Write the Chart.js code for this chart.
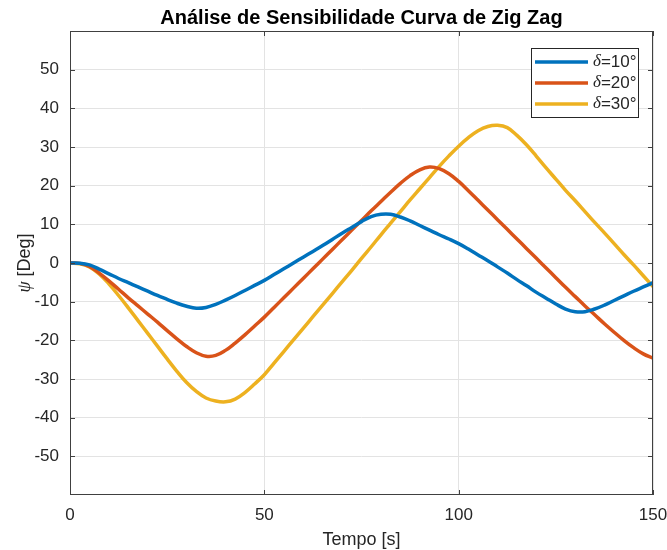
<!DOCTYPE html>
<html><head><meta charset="utf-8">
<script src="https://cdn.jsdelivr.net/npm/chart.js@4.4.0/dist/chart.umd.min.js"></script>
<style>html,body{margin:0;padding:0;background:#fff}#wrap{width:667px;height:550px;position:relative}</style>
</head><body><div id="wrap"><canvas id="c"></canvas></div>
<script>
const chartTitle = 'Análise de Sensibilidade Curva de Zig Zag';
const xTitle = 'Tempo [s]';
const yTitleSymbol = 'ψ';
const yTitleText = ' [Deg]';
const legendSymbol = 'δ';
const seriesLabels = ['=10°', '=20°', '=30°'];
const seriesColors = ['#0072BD', '#D95319', '#EDB120'];
const xTicks = [0, 50, 100, 150];
const yTicks = [-50, -40, -30, -20, -10, 0, 10, 20, 30, 40, 50];

const time = [0,2.5,5,7.5,10,12.5,15,17.5,20,22.5,25,27.5,30,32.5,35,37.5,40,42.5,45,47.5,
  50,52.5,55,57.5,60,62.5,65,67.5,70,72.5,75,77.5,80,82.5,85,87.5,90,92.5,95,97.5,
  100,102.5,105,107.5,110,112.5,115,117.5,120,122.5,125,127.5,130,132.5,135,137.5,140,142.5,145,147.5,150];

const psi10 = [0,-0.05,-0.5,-1.6,-2.8,-4.0,-5.1,-6.2,-7.3,-8.4,-9.4,-10.4,-11.2,-11.7,-11.5,-10.7,-9.6,-8.4,-7.1,-5.8,
  -4.5,-3.0,-1.5,0.0,1.5,3.0,4.5,6.1,7.7,9.2,10.7,12.0,12.6,12.6,11.9,10.9,9.7,8.5,7.3,6.2,
  5.0,3.6,2.1,0.6,-1.0,-2.6,-4.3,-5.9,-7.6,-9.1,-10.6,-11.9,-12.6,-12.6,-11.9,-10.9,-9.7,-8.5,-7.3,-6.2,-5.1];

const psi20 = [0,-0.1,-0.9,-2.6,-4.6,-6.8,-9.0,-11.1,-13.2,-15.3,-17.5,-19.6,-21.6,-23.2,-24.1,-23.9,-22.6,-20.7,-18.6,-16.3,
  -14.0,-11.5,-9.0,-6.5,-4.0,-1.5,1.0,3.5,6.0,8.5,11.0,13.5,15.9,18.3,20.6,22.6,24.1,24.8,24.4,23.1,
  21.1,18.7,16.2,13.7,11.2,8.7,6.2,3.7,1.2,-1.3,-3.8,-6.3,-8.7,-11.1,-13.4,-15.7,-17.9,-20.0,-21.9,-23.5,-24.6];

const psi30 = [0,-0.2,-1.0,-2.8,-5.4,-8.4,-11.6,-14.9,-18.2,-21.5,-24.8,-28.0,-30.9,-33.2,-34.9,-35.7,-35.9,-35.2,-33.5,-31.3,
  -28.9,-25.9,-22.9,-19.9,-16.9,-13.9,-10.9,-7.9,-4.9,-1.9,1.2,4.2,7.3,10.3,13.3,16.3,19.2,22.1,25.0,27.7,
  30.2,32.4,34.2,35.3,35.6,35.0,33.0,30.5,27.6,24.6,21.7,18.8,16.1,13.3,10.5,7.8,5.0,2.2,-0.5,-3.3,-6.1];

const seriesValues = [psi10, psi20, psi30];
const SANS = '"Liberation Sans", Arial, Helvetica, sans-serif';
const SERIF = '"Liberation Serif", "Times New Roman", serif';
const TXT = '#262626';

const deco = {
  id: 'deco',
  beforeDraw(chart) {
    const ctx = chart.ctx;
    ctx.save(); ctx.fillStyle = '#fff'; ctx.fillRect(0, 0, chart.width, chart.height); ctx.restore();
  },
  afterDatasetsDraw(chart) {
    const { ctx, chartArea: a, scales: { x, y } } = chart;
    ctx.save();
    // box
    ctx.strokeStyle = '#404040'; ctx.lineWidth = 1;
    ctx.strokeRect(Math.round(a.left) + 0.5, Math.round(a.top) + 0.5, Math.round(a.right - a.left) - 1, Math.round(a.bottom - a.top) - 1);
    // inward ticks
    ctx.beginPath();
    yTicks.forEach(v => {
      const py = Math.round(y.getPixelForValue(v)) + 0.5;
      ctx.moveTo(a.left, py); ctx.lineTo(a.left + 5, py);
      ctx.moveTo(a.right, py); ctx.lineTo(a.right - 5, py);
    });
    xTicks.forEach(v => {
      const px = Math.round(x.getPixelForValue(v)) + 0.5;
      ctx.moveTo(px, a.bottom); ctx.lineTo(px, a.bottom - 5);
      ctx.moveTo(px, a.top); ctx.lineTo(px, a.top + 5);
    });
    ctx.stroke();

    // title
    ctx.fillStyle = '#000';
    ctx.font = 'bold 20px ' + SANS;
    ctx.textAlign = 'center'; ctx.textBaseline = 'middle';
    ctx.fillText(chartTitle, (a.left + a.right) / 2, 18);

    // x title
    ctx.fillStyle = TXT;
    ctx.font = '18px ' + SANS;
    ctx.fillText(xTitle, (a.left + a.right) / 2, 540);

    // y title
    ctx.save();
    ctx.translate(25, (a.top + a.bottom) / 2);
    ctx.rotate(-Math.PI / 2);
    ctx.font = 'italic 18px ' + SERIF;
    const w1 = ctx.measureText(yTitleSymbol).width;
    ctx.font = '18px ' + SANS;
    const w2 = ctx.measureText(yTitleText).width;
    const sx = -(w1 + w2) / 2;
    ctx.textAlign = 'left';
    ctx.font = 'italic 18px ' + SERIF;
    ctx.fillText(yTitleSymbol, sx, 0);
    ctx.font = '18px ' + SANS;
    ctx.fillText(yTitleText, sx + w1, 0);
    ctx.restore();

    // legend
    const bw = 107, bh = 69;
    const bx = a.right - 15 - bw, by = a.top + 17;
    ctx.fillStyle = '#fff';
    ctx.fillRect(bx, by, bw, bh);
    ctx.strokeStyle = '#262626'; ctx.lineWidth = 1;
    ctx.strokeRect(Math.round(bx) + 0.5, Math.round(by) + 0.5, bw, bh);
    chart.data.datasets.forEach((ds, i) => {
      const ry = by + 14 + i * 21;
      ctx.strokeStyle = ds.borderColor; ctx.lineWidth = 3.5;
      ctx.beginPath(); ctx.moveTo(bx + 4, ry); ctx.lineTo(bx + 57, ry); ctx.stroke();
      ctx.fillStyle = TXT; ctx.textAlign = 'left'; ctx.textBaseline = 'middle';
      ctx.font = 'italic 17px ' + SERIF;
      ctx.fillText(legendSymbol, bx + 62, ry);
      const dw = ctx.measureText(legendSymbol).width;
      ctx.font = '17px ' + SANS;
      ctx.fillText(seriesLabels[i], bx + 62 + dw, ry);
    });
    ctx.restore();
  }
};

new Chart(document.getElementById('c'), {
  type: 'line',
  data: {
    datasets: seriesValues.map((vals, i) => ({
      label: legendSymbol + seriesLabels[i],
      data: time.map((t, k) => ({ x: t, y: vals[k] })),
      borderColor: seriesColors[i],
      backgroundColor: seriesColors[i],
      borderWidth: 3.5,
      pointRadius: 0,
      tension: 0.4,
      fill: false
    }))
  },
  options: {
    responsive: true,
    maintainAspectRatio: false,
    animation: false,
    layout: { padding: { top: 31, right: 14, left: 0, bottom: 0 } },
    plugins: { legend: { display: false }, title: { display: false }, tooltip: { enabled: false } },
    scales: {
      x: {
        type: 'linear', min: 0, max: 150,
        afterBuildTicks: s => { s.ticks = xTicks.map(v => ({ value: v })); },
        afterFit: s => { s.height = 55; s.paddingLeft = 0; s.paddingRight = 0; },
        grid: { color: '#e3e3e3', drawTicks: false },
        border: { display: false },
        ticks: { padding: 10, color: TXT, font: { family: SANS, size: 17 }, maxRotation: 0 }
      },
      y: {
        type: 'linear', min: -60, max: 60,
        afterBuildTicks: s => { s.ticks = yTicks.map(v => ({ value: v })); },
        afterFit: s => { s.width = 70; s.paddingTop = 0; s.paddingBottom = 0; },
        grid: { color: '#e3e3e3', drawTicks: false },
        border: { display: false },
        ticks: { padding: 11, color: TXT, font: { family: SANS, size: 17 } }
      }
    }
  },
  plugins: [deco]
});
</script></body></html>
